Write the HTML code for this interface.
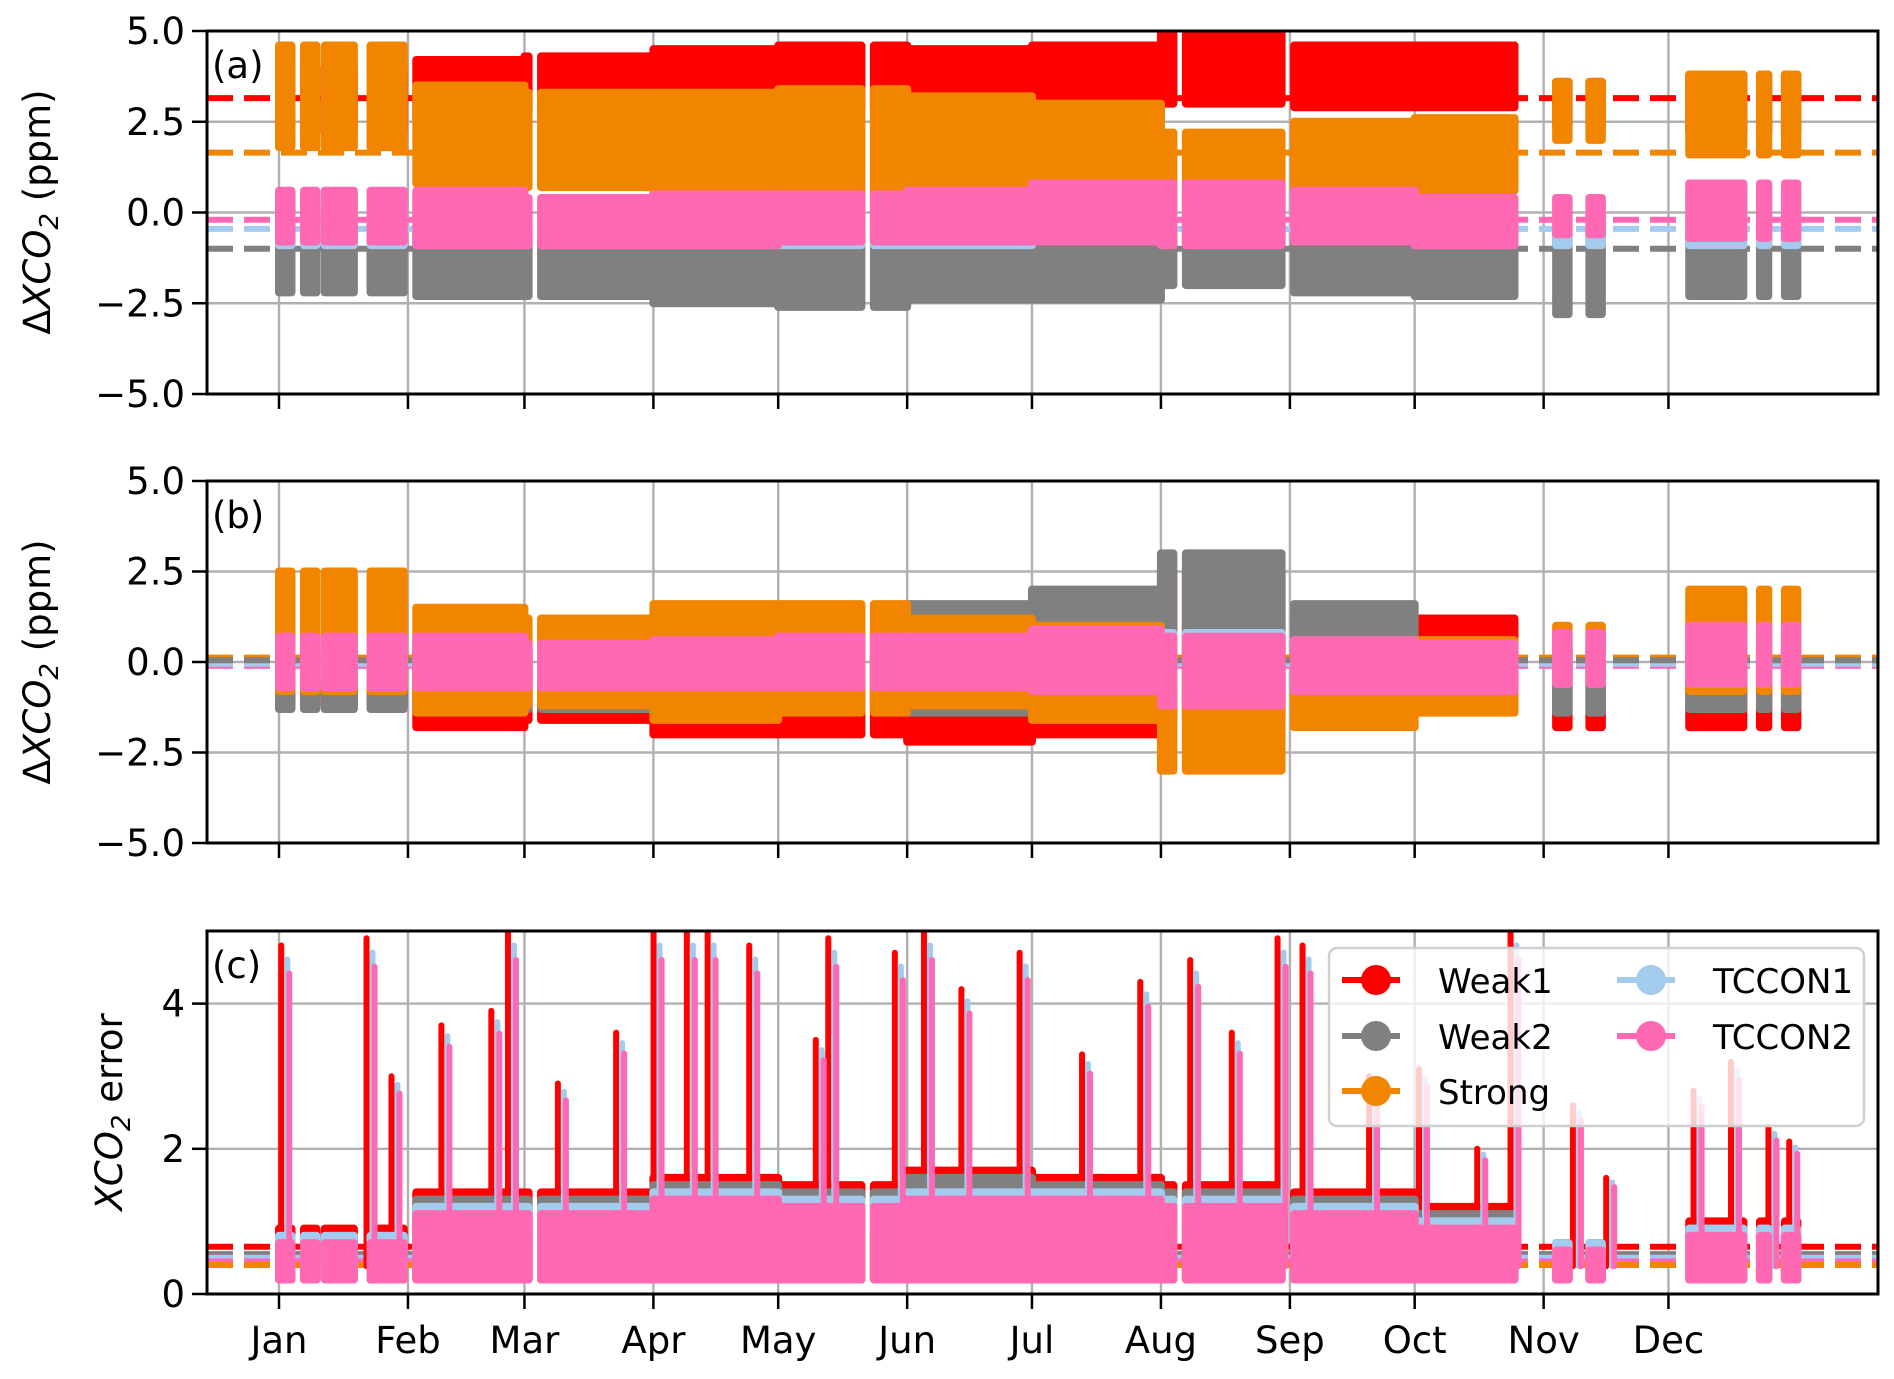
<!DOCTYPE html>
<html><head><meta charset="utf-8"><style>
body{margin:0;background:#fff}
svg{display:block}
text{font-family:"DejaVu Sans","Liberation Sans",sans-serif;fill:#000}
</style></head><body>
<svg id="chart" width="1894" height="1379" viewBox="0 0 1894 1379" xmlns="http://www.w3.org/2000/svg"></svg>
<script>
// ---- data ----
const months = ["Jan","Feb","Mar","Apr","May","Jun","Jul","Aug","Sep","Oct","Nov","Dec"];
const monthStart = [0,31,59,90,120,151,181,212,243,273,304,334];
const seriesNames = ["Weak1","Weak2","Strong","TCCON1","TCCON2"];
const segStart = [0,6,11,22,33,63,143,218,244,307,315,339,356,362];
const segEnd   = [3,9,18,30,60,140,215,241,297,310,318,352,358,365];
// panel (a) monthly low/high per series
const aW1lo=[2.2,2.6,2.8,2.9,2.9,2.8,2.8,3.0,2.9,2.9,2.4,2.2];
const aW1hi=[4.0,4.2,4.3,4.5,4.6,4.5,4.6,5.0,4.6,4.6,3.6,3.8];
const aW2lo=[-2.2,-2.3,-2.3,-2.5,-2.6,-2.4,-2.4,-2.0,-2.2,-2.3,-2.8,-2.3];
const aW2hi=[-0.6,-0.6,-0.6,-0.5,-0.5,-0.5,-0.4,0.8,-0.4,-0.6,-0.6,-0.6];
const aSlo=[1.8,0.8,0.7,0.4,0.5,0.4,0.4,0.6,0.6,0.6,2.0,1.6];
const aShi=[4.6,3.5,3.3,3.3,3.4,3.2,3.0,2.2,2.5,2.6,3.6,3.8];
const aT1lo=[-0.9,-0.9,-0.9,-0.9,-0.9,-0.9,-0.8,-0.8,-0.8,-0.9,-0.9,-0.9];
const aT1hi=[0.3,0.3,0.3,0.3,0.4,0.4,0.6,0.6,0.4,0.3,0.3,0.5];
const aT2lo=[-0.8,-0.9,-0.9,-0.9,-0.8,-0.8,-0.8,-0.9,-0.8,-0.9,-0.6,-0.7];
const aT2hi=[0.6,0.6,0.4,0.5,0.5,0.6,0.8,0.8,0.6,0.4,0.4,0.8];
const aMean=[3.15,-1.0,1.65,-0.45,-0.2];
// panel (b)
const bW1lo=[-1.2,-1.8,-1.6,-2.0,-2.0,-2.2,-2.0,-1.6,-1.4,-1.0,-1.8,-1.8];
const bW1hi=[0.4,0.3,0.2,0.4,0.3,0.6,1.0,2.5,1.2,1.2,0.4,0.4];
const bW2lo=[-1.3,-1.3,-1.3,-1.3,-1.3,-1.4,-1.4,-1.2,-1.2,-1.2,-1.4,-1.3];
const bW2hi=[0.3,0.4,0.4,0.6,0.8,1.6,2.0,3.0,1.6,0.6,0.3,0.3];
const bSlo=[-0.8,-1.4,-1.2,-1.6,-1.4,-1.2,-1.6,-3.0,-1.8,-1.4,-0.5,-0.8];
const bShi=[2.5,1.5,1.2,1.6,1.6,1.2,1.0,0.8,0.6,0.6,1.0,2.0];
const bT1lo=[-0.6,-0.6,-0.6,-0.6,-0.6,-0.6,-0.7,-0.8,-0.6,-0.6,-0.6,-0.6];
const bT1hi=[0.6,0.6,0.4,0.5,0.6,0.6,0.8,0.8,0.6,0.5,0.6,0.8];
const bT2lo=[-0.7,-0.7,-0.7,-0.7,-0.7,-0.7,-0.8,-1.2,-0.8,-0.8,-0.6,-0.6];
const bT2hi=[0.7,0.7,0.5,0.6,0.7,0.7,0.9,0.7,0.6,0.5,0.8,1.0];
const bMean=[-0.1,0.05,0.12,-0.05,-0.1];
// panel (c)
const cW1hi=[0.9,1.4,1.4,1.6,1.5,1.7,1.6,1.5,1.4,1.2,0.7,1.0];
const cW2hi=[0.8,1.3,1.3,1.5,1.4,1.6,1.5,1.4,1.3,1.1,0.7,0.9];
const cShi=[0.6,0.8,0.8,1.0,0.9,1.0,1.0,1.0,0.9,0.8,0.6,0.7];
const cT1hi=[0.8,1.2,1.2,1.4,1.3,1.4,1.4,1.3,1.2,1.0,0.7,0.9];
const cT2hi=[0.7,1.1,1.1,1.3,1.2,1.3,1.3,1.2,1.1,0.9,0.6,0.8];
const cLo=[0.2,0.2,0.2,0.2,0.2,0.2,0.2,0.2,0.2,0.2,0.2,0.2];
const cMean=[0.65,0.55,0.4,0.5,0.45];
const spikeDay=[1.5,22,28,40,52,56,68,82,91,99,104,114,130,133,149,156,165,179,194,208,220,230,241,247,263,275,289,297,312,320,341,350,359,364];
const spikeTop=[4.8,4.9,3.0,3.7,3.9,5.0,2.9,3.6,5.0,5.0,5.0,4.8,3.5,4.9,4.7,5.0,4.2,4.7,3.3,4.3,4.6,3.6,4.9,4.8,3.0,3.1,2.0,5.0,2.6,1.6,2.8,3.2,2.3,2.1];
const yTicksAB=[5.0,2.5,0.0,-2.5,-5.0];
const yTicksC=[0,2,4];
const colors=["#ff0000","#808080","#f28500","#a2cbee","#ff69b4"];

// ---- layout ----
const svg=document.getElementById('chart');
const NS='http://www.w3.org/2000/svg';
const X0=207,X1=1878,JAN=279,PXD=4.16;
const xs=d=>JAN+d*PXD;
const panels=[{top:31,bot:394,min:-5,max:5,lab:"(a)",name:"panel-a"},
              {top:481,bot:843,min:-5,max:5,lab:"(b)",name:"panel-b"},
              {top:931,bot:1294,min:0,max:5,lab:"(c)",name:"panel-c"}];
function el(tag,attrs,parent){const e=document.createElementNS(NS,tag);for(const k in attrs)e.setAttribute(k,attrs[k]);(parent||svg).appendChild(e);return e;}
function monthOf(d){let m=0;for(let i=0;i<12;i++)if(d>=monthStart[i])m=i;return m;}

function drawPanel(p,lows,highs,means,idx){
  const g=el('g',{});
  
  
  const ys=v=>p.top+(p.max-v)/(p.max-p.min)*(p.bot-p.top);
  const clip=el('clipPath',{id:'clip'+idx},g);
  el('rect',{x:X0,y:p.top,width:X1-X0,height:p.bot-p.top},clip);
  const ticks=idx<2?yTicksAB:yTicksC;
  ticks.forEach(t=>{const l=el('line',{x1:X0,x2:X1,y1:ys(t),y2:ys(t),stroke:'#b0b0b0','stroke-width':2.4},g);
    });
  monthStart.forEach(d=>{const l=el('line',{x1:xs(d),x2:xs(d),y1:p.top,y2:p.bot,stroke:'#b0b0b0','stroke-width':2.4},g);
    });
  const data=el('g',{'clip-path':'url(#clip'+idx+')'},g);
  for(let s=0;s<5;s++){
    const sg=el('g',{fill:colors[s]},data);
    
    
    for(let k=0;k<segStart.length;k++){
      let d=segStart[k];
      while(d<segEnd[k]){
        const m=monthOf(d);
        const e=Math.min(segEnd[k], m<11?monthStart[m+1]:366);
        const lo=lows[s][m],hi=highs[s][m];
        const r=el('rect',{x:xs(d)-4,y:ys(hi)-4,width:(e-d)*PXD+8,height:ys(lo)-ys(hi)+8,rx:4},sg);
        
        
        d=e;
      }
    }
    if(idx===2 && (s===0||s===4||s===3)){
      spikeDay.forEach((sd,i)=>{
        const top=s===0?spikeTop[i]:spikeTop[i]*(s===4?0.92:0.96);
        const r=el('rect',{x:xs(sd)-3+(s-2)*2,y:ys(top)-3,width:6,height:ys(0.3)-ys(top),rx:3},sg);
        
        
      });
    }
  }
  const order=idx===2?[0,1,3,4,2]:[0,2,4,3,1];
  order.forEach(s=>{
    const l=el('line',{x1:X0,x2:X1,y1:ys(means[s]),y2:ys(means[s]),stroke:colors[s],'stroke-width':6,'stroke-dasharray':'26 11'},g);
    g.insertBefore(l,data);
    
    
  });
  const f=el('rect',{x:X0,y:p.top,width:X1-X0,height:p.bot-p.top,fill:'none',stroke:'#000','stroke-width':3},g);
  
  ticks.forEach(t=>{
    el('line',{x1:X0-15,x2:X0,y1:ys(t),y2:ys(t),stroke:'#000','stroke-width':2.5},g);
    const tx=el('text',{x:X0-22,y:ys(t)+13,'text-anchor':'end','font-size':37},g);
    tx.textContent=idx<2?(t<0?'\u2212'+Math.abs(t).toFixed(1):t.toFixed(1)):String(t);
    
  });
  monthStart.forEach(d=>el('line',{x1:xs(d),x2:xs(d),y1:p.bot,y2:p.bot+15,stroke:'#000','stroke-width':2.5},g));
  const lt=el('text',{x:X0+5,y:p.top+47,'font-size':37},g);
  lt.textContent=p.lab;
  
}
drawPanel(panels[0],[aW1lo,aW2lo,aSlo,aT1lo,aT2lo],[aW1hi,aW2hi,aShi,aT1hi,aT2hi],aMean,0);
drawPanel(panels[1],[bW1lo,bW2lo,bSlo,bT1lo,bT2lo],[bW1hi,bW2hi,bShi,bT1hi,bT2hi],bMean,1);
drawPanel(panels[2],[cLo,cLo,cLo,cLo,cLo],[cW1hi,cW2hi,cShi,cT1hi,cT2hi],cMean,2);

months.forEach((m,i)=>{
  const t=el('text',{x:xs(monthStart[i]),y:1353,'text-anchor':'middle','font-size':37});
  t.textContent=m;
  
  
});
function ytitle(cx,cy,html,name){
  const t=el('text',{x:0,y:0,'text-anchor':'middle','font-size':37,transform:'translate('+cx+','+cy+') rotate(-90)'});
  t.innerHTML=html;
  
  
}
ytitle(50,212,'\u0394<tspan font-style="italic">XCO</tspan><tspan font-size="26" dy="8" font-style="italic">2</tspan><tspan dy="-8"> (ppm)</tspan>','y-axis-title-a');
ytitle(50,662,'\u0394<tspan font-style="italic">XCO</tspan><tspan font-size="26" dy="8" font-style="italic">2</tspan><tspan dy="-8"> (ppm)</tspan>','y-axis-title-b');
ytitle(122,1112,'<tspan font-style="italic">XCO</tspan><tspan font-size="26" dy="8" font-style="italic">2</tspan><tspan dy="-8"> error</tspan>','y-axis-title-c');

const lg=el('g',{});


el('rect',{x:1329,y:948,width:535,height:178,rx:8,fill:'rgba(255,255,255,0.8)',stroke:'#d0d0d0','stroke-width':2.5},lg);
const legX=[1376,1376,1376,1651,1651], legY=[980,1036,1091,980,1036];
for(let s=0;s<5;s++){
  const e=el('g',{},lg);
  
  
  el('line',{x1:legX[s]-34,x2:legX[s]+24,y1:legY[s],y2:legY[s],stroke:colors[s],'stroke-width':6},e);
  el('circle',{cx:legX[s],cy:legY[s],r:15,fill:colors[s]},e);
  const t=el('text',{x:s<3?1438:1713,y:legY[s]+13,'font-size':34},e);
  t.textContent=seriesNames[s];
}
</script>
</body></html>
